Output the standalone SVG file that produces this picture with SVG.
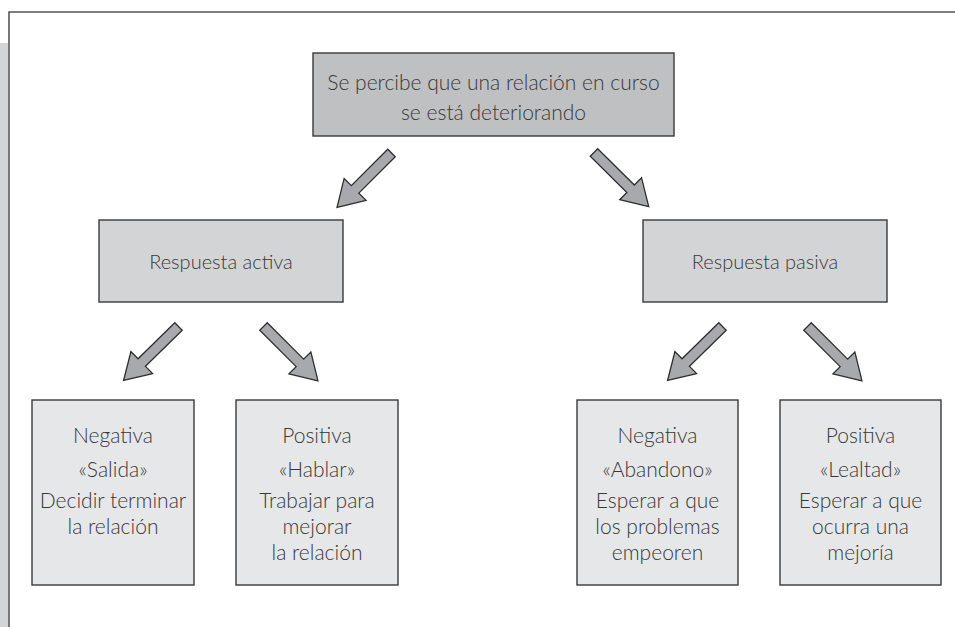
<svg xmlns="http://www.w3.org/2000/svg" width="955" height="627" viewBox="0 0 955 627">
<style>
.t{font-family:Lato,"Liberation Sans",sans-serif;font-weight:300;font-size:21px;fill:#383838;text-anchor:middle}
.m{font-size:20px}
.b0{fill:#bfc0c2;stroke:#3a3a3a;stroke-width:1.4}
.b1{fill:#d3d4d6;stroke:#3a3a3a;stroke-width:1.4}
.b2{fill:#e6e7e8;stroke:#3a3a3a;stroke-width:1.4}
.ar{fill:#a7a9ac;stroke:#2e2e2e;stroke-width:1.3;stroke-linejoin:miter}
</style>
<defs>
<polygon id="arr" points="0,-5.3 51.5,-5.3 51.5,-15.5 77,0 51.5,15.5 51.5,5.3 0,5.3"/>
</defs>
<rect x="0" y="43" width="8" height="584" fill="#d3d4d6"/>
<path d="M9,627 V12 H955" fill="none" stroke="#555" stroke-width="1.6"/>
<g id="top">
<rect class="b0" x="313" y="53" width="361" height="83"/>
<text class="t" x="493.5" y="90">Se percibe que una relación en curso</text>
<text class="t" x="493.5" y="120">se está deteriorando</text>
</g>
<g id="activa">
<rect class="b1" x="99" y="220" width="244" height="82"/>
<text class="t m" x="221" y="269">Respuesta activa</text>
</g>
<g id="pasiva">
<rect class="b1" x="643" y="220" width="244" height="82"/>
<text class="t m" x="765" y="269">Respuesta pasiva</text>
</g>
<g id="salida">
<rect class="b2" x="32" y="400" width="162" height="185"/>
<text class="t" x="113" y="443">Negativa</text>
<text class="t" x="113" y="477">«Salida»</text>
<text class="t" x="113" y="508">Decidir terminar</text>
<text class="t" x="113" y="534">la relación</text>
</g>
<g id="hablar">
<rect class="b2" x="236" y="400" width="162" height="185"/>
<text class="t" x="317" y="443">Positiva</text>
<text class="t" x="317" y="477">«Hablar»</text>
<text class="t" x="317" y="508">Trabajar para</text>
<text class="t" x="317" y="534">mejorar</text>
<text class="t" x="317" y="560">la relación</text>
</g>
<g id="abandono">
<rect class="b2" x="577" y="400" width="161" height="185"/>
<text class="t" x="657.5" y="443">Negativa</text>
<text class="t" x="657.5" y="477">«Abandono»</text>
<text class="t" x="657.5" y="508">Esperar a que</text>
<text class="t" x="657.5" y="534">los problemas</text>
<text class="t" x="657.5" y="560">empeoren</text>
</g>
<g id="lealtad">
<rect class="b2" x="780" y="400" width="161" height="185"/>
<text class="t" x="860.5" y="443">Positiva</text>
<text class="t" x="860.5" y="477">«Lealtad»</text>
<text class="t" x="860.5" y="508">Esperar a que</text>
<text class="t" x="860.5" y="534">ocurra una</text>
<text class="t" x="860.5" y="560">mejoría</text>
</g>
<g id="connectors">
<use href="#arr" class="ar" transform="translate(391.5,153) rotate(135)"/>
<use href="#arr" class="ar" transform="translate(594,152.5) rotate(44.7)"/>
<use href="#arr" class="ar" transform="translate(178.5,326.5) rotate(135.5)"/>
<use href="#arr" class="ar" transform="translate(263.5,326.5) rotate(45)"/>
<use href="#arr" class="ar" transform="translate(722.5,326.5) rotate(135.5)"/>
<use href="#arr" class="ar" transform="translate(807.5,326.5) rotate(45)"/>
</g>
</svg>
